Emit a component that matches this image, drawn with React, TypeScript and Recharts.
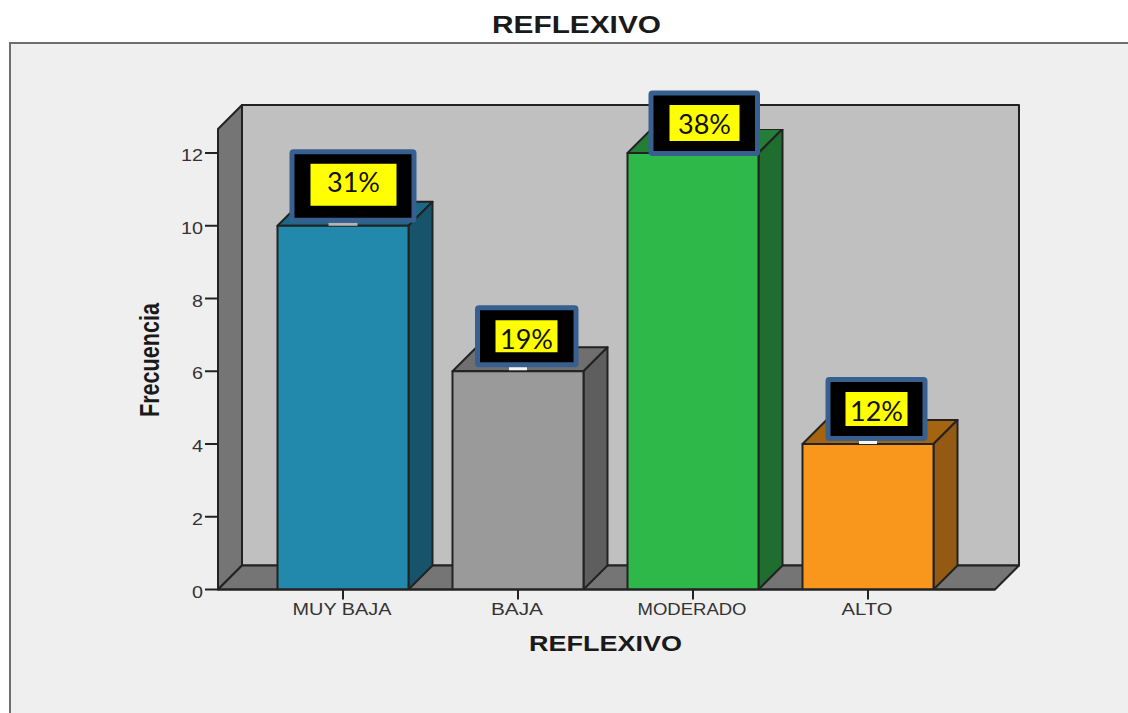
import React from 'react';
import { BarChart, Bar, XAxis, YAxis, LabelList, usePlotArea } from 'recharts';

const categories = ['MUY BAJA', 'BAJA', 'MODERADO', 'ALTO'];
const frecuencia = [10, 6, 12, 4];
const porcentajes = ['31%', '19%', '38%', '12%'];
const yTicks = [0, 2, 4, 6, 8, 10, 12];

const data = categories.map((name, i) => ({ name, frecuencia: frecuencia[i] }));

const FONT = '"Liberation Sans", Arial, sans-serif';
const INK = '#222';
const DEPTH = 24;

// front / side / top shades of each bar
const barFront = ['#2389ac', '#9a9a9a', '#2fb84a', '#f9971d'];
const barSide = ['#17546b', '#5e5e5e', '#1f6e30', '#945a13'];
const barTop = ['#1b6a85', '#6f6f6f', '#237f35', '#a5640f'];

// callout boxes, pasted on top of the chart in the original; offsets are from the bar's top-left corner
const callouts = [
  { left: 12, top: -76.5, w: 127, h: 73.5, padX: 21, padY: 14.5, yw: 86, yh: 42, mark: 29, markFill: '#b4b4b4', markTop: -3, markH: 3 },
  { left: 22.5, top: -66, w: 103.5, h: 62, padX: 20.5, padY: 15, yw: 62, yh: 32, mark: 18, markFill: '#f6f6f6', markTop: -5, markH: 4 },
  { left: 21, top: -62.5, w: 111.5, h: 65.5, padX: 21, padY: 14.5, yw: 70, yh: 36, mark: 0, markFill: '', markTop: 0, markH: 0 },
  { left: 23, top: -67, w: 102, h: 64, padX: 20, padY: 15, yw: 62, yh: 34, mark: 18, markFill: '#f6f6f6', markTop: -3, markH: 3 },
];

const Backdrop = () => {
  const plot = usePlotArea();
  if (!plot) return null;
  const { x, y, width, height } = plot;
  const bottom = y + height;
  const right = x + width;
  return (
    <g stroke={INK} strokeWidth={2} strokeLinejoin="round">
      <rect x={x + DEPTH} y={y - DEPTH} width={width} height={height} fill="#c0c0c0" />
      <polygon
        points={`${x},${y} ${x + DEPTH},${y - DEPTH} ${x + DEPTH},${bottom - DEPTH} ${x},${bottom}`}
        fill="#757575"
      />
      <polygon
        points={`${x},${bottom} ${x + DEPTH},${bottom - DEPTH} ${right + DEPTH},${bottom - DEPTH} ${right},${bottom}`}
        fill="#757575"
      />
    </g>
  );
};

const Bar3D = (props: any) => {
  const { x, y, width, height, index } = props;
  const r = x + width;
  const b = y + height;
  return (
    <g stroke={INK} strokeWidth={2} strokeLinejoin="round">
      <polygon
        points={`${x},${y} ${x + DEPTH},${y - DEPTH} ${r + DEPTH},${y - DEPTH} ${r},${y}`}
        fill={barTop[index]}
      />
      <polygon
        points={`${r},${y} ${r + DEPTH},${y - DEPTH} ${r + DEPTH},${b - DEPTH} ${r},${b}`}
        fill={barSide[index]}
      />
      <rect x={x} y={y} width={width} height={height} fill={barFront[index]} />
    </g>
  );
};

const Callout = (props: any) => {
  const { x, y, width, index } = props;
  const c = callouts[index];
  const bx = x + c.left;
  const by = y + c.top;
  return (
    <g>
      {c.mark > 0 && (
        <rect x={x + width / 2 - c.mark / 2} y={y + c.markTop} width={c.mark} height={c.markH} fill={c.markFill} />
      )}
      <rect
        x={bx + 2.5}
        y={by + 2.5}
        width={c.w - 5}
        height={c.h - 5}
        rx={1.5}
        fill="#000"
        stroke="#375f8f"
        strokeWidth={5}
      />
      <rect x={bx + c.padX} y={by + c.padY} width={c.yw} height={c.yh} fill="#ffff00" />
      <text
        x={bx + c.padX + c.yw / 2}
        y={by + c.padY + 28.5}
        textAnchor="middle"
        fontFamily='Lato, "Noto Sans", sans-serif'
        fontSize={27}
        fill="#111"
      >
        {porcentajes[index]}
      </text>
    </g>
  );
};

const XTick = (props: any) => {
  const { x, y, payload } = props;
  const widths: Record<string, number> = { 'MUY BAJA': 99, BAJA: 52, MODERADO: 109, ALTO: 51 };
  return (
    <text
      x={x - 1}
      y={y + 13.5}
      textAnchor="middle"
      fontFamily={FONT}
      fontSize={16.5}
      fill="#333"
      textLength={widths[payload.value]}
      lengthAdjust="spacingAndGlyphs"
    >
      {payload.value}
    </text>
  );
};

const YTick = (props: any) => {
  const { x, y, payload } = props;
  const label = String(payload.value);
  return (
    <text
      x={x}
      y={y + 8}
      textAnchor="end"
      fontFamily={FONT}
      fontSize={17}
      fill="#333"
      textLength={label.length * 11}
      lengthAdjust="spacingAndGlyphs"
    >
      {label}
    </text>
  );
};

const Titles = () => (
  <g fontFamily={FONT} fontWeight="bold" fill="#1a1a1a">
    <text x={576.5} y={33} textAnchor="middle" fontSize={24} textLength={169} lengthAdjust="spacingAndGlyphs">
      REFLEXIVO
    </text>
    <text x={605.5} y={651} textAnchor="middle" fontSize={22} textLength={153} lengthAdjust="spacingAndGlyphs">
      REFLEXIVO
    </text>
    <text
      transform="translate(159,360) rotate(-90) scale(1,1.35)"
      textAnchor="middle"
      fontSize={21}
      textLength={114}
      lengthAdjust="spacingAndGlyphs"
    >
      Frecuencia
    </text>
  </g>
);

export default function App() {
  return (
    <div style={{ position: 'absolute', left: 0, top: 0, width: 1128, height: 713, overflow: 'hidden', background: '#fff' }}>
      <div
        style={{
          position: 'absolute',
          left: 9,
          top: 42,
          width: 1130,
          height: 700,
          boxSizing: 'border-box',
          background: '#efefef',
          border: '2px solid #6e6e6e',
        }}
      />
      <div style={{ position: 'absolute', left: 0, top: 0 }}>
        <BarChart
          width={1128}
          height={713}
          data={data}
          margin={{ top: 129, right: 133, bottom: 83.5, left: 158 }}
          barSize={131}
        >
          <Backdrop />
          <XAxis
            dataKey="name"
            height={40}
            padding={{ left: 37.5, right: 39.5 }}
            stroke={INK}
            strokeWidth={2}
            tickSize={10}
            tick={<XTick />}
            interval={0}
          />
          <YAxis
            width={60}
            domain={[0, 12.66]}
            allowDataOverflow
            ticks={yTicks}
            stroke={INK}
            strokeWidth={2}
            tickSize={13}
            tick={<YTick />}
            interval={0}
          />
          <Bar dataKey="frecuencia" shape={<Bar3D />} isAnimationActive={false}>
            <LabelList dataKey="frecuencia" content={<Callout />} />
          </Bar>
          <Titles />
        </BarChart>
      </div>
    </div>
  );
}
